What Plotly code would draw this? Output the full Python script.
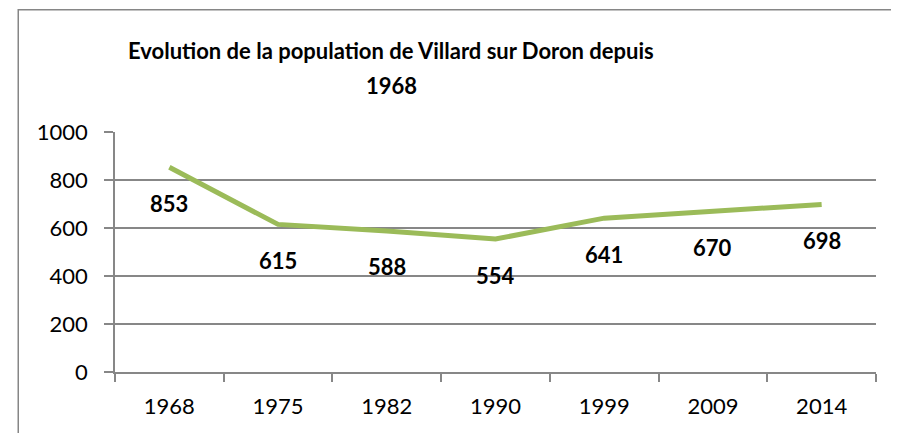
import plotly.graph_objects as go

years = ["1968", "1975", "1982", "1990", "1999", "2009", "2014"]
population = [853, 615, 588, 554, 641, 670, 698]
y_ticks = [0, 200, 400, 600, 800, 1000]

TITLE_1 = "Evolution de la population de Villard sur Doron depuis"
TITLE_2 = "1968"
GREEN = "#9BBB59"
GRID = "#878787"
FONT = "Lato, Carlito, Calibri, sans-serif"

# the page body adds an 8px margin, so the figure is drawn 8px smaller
OFF = 8
W, H = 899 - OFF, 433 - OFF
L, R, T, B = 115 - OFF, 23, 132 - OFF, 61


def px_x(p):
    return (p - OFF - L) / (W - L - R)


def px_y(p):
    return (H - B - (p - OFF)) / (H - T - B)


fig = go.Figure()
fig.add_scatter(
    x=years, y=population, mode="lines",
    line={"color": GREEN, "width": 5}, hoverinfo="x+y", showlegend=False,
)
for i, value in enumerate(population):
    fig.add_annotation(
        x=i, y=value, text=f"<b>{value}</b>", showarrow=False,
        yshift=-36, font={"size": 22, "color": "#000000", "family": FONT},
    )

# title, two centred lines
for text, y in [(TITLE_1, 50), (TITLE_2, 85)]:
    fig.add_annotation(
        xref="paper", yref="paper", x=px_x(391), y=px_y(y),
        text=f"<b>{text}</b>", showarrow=False, xanchor="center", yanchor="middle",
        font={"size": 22, "color": "#000000", "family": FONT},
    )

# outer chart border (left and top edges), drawn as thin filled strips
for x0, x1, y0, y1 in [(17.5, 19, 9, 433), (18, 899, 9, 10.5)]:
    fig.add_shape(
        type="rect", xref="paper", yref="paper",
        x0=px_x(x0), x1=px_x(x1), y0=px_y(y1), y1=px_y(y0),
        line={"width": 0}, fillcolor="#868686",
    )

fig.update_layout(
    width=W, height=H,
    margin={"l": L, "r": R, "t": T, "b": B},
    paper_bgcolor="white", plot_bgcolor="white",
    font={"family": FONT, "size": 22, "color": "#000000"},
    showlegend=False,
)
fig.update_xaxes(
    type="category", range=[-0.5, 6.5], tickson="boundaries",
    ticks="outside", ticklen=8, tickcolor=GRID, tickwidth=1.5,
    showline=True, linecolor=GRID, linewidth=1.5, showgrid=False,
    ticklabelstandoff=14, tickfont={"size": 22},
)
fig.update_yaxes(
    range=[0, 1000], tickvals=y_ticks, ticks="outside", ticklen=9,
    tickcolor=GRID, tickwidth=1.5, showline=True, linecolor=GRID, linewidth=1.5,
    showgrid=True, gridcolor=GRID, gridwidth=1.5, zeroline=False,
    ticklabelstandoff=12, tickfont={"size": 22},
)

fig.write_html("out.html")
